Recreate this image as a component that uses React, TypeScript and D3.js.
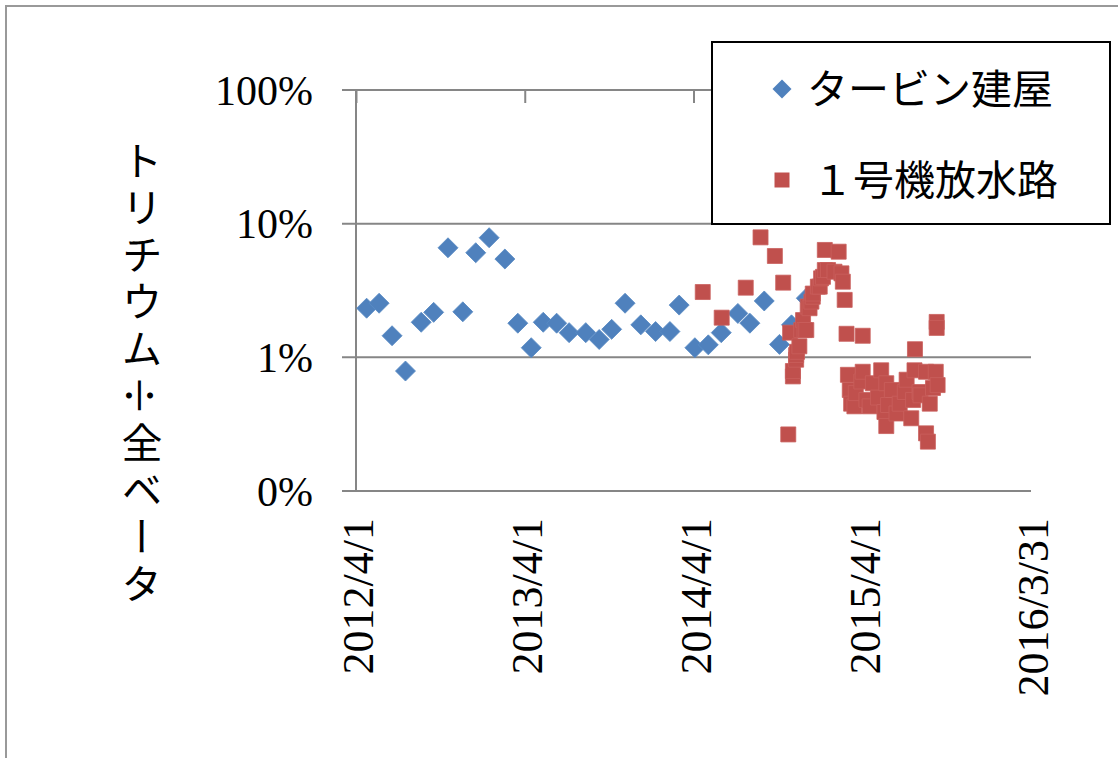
import React, { useRef, useEffect } from "react";
import * as d3 from "d3";

// series: タービン建屋 (blue diamonds)
const turbineDates = [
  "2012-04-24", "2012-05-21", "2012-06-18", "2012-07-17", "2012-08-20", "2012-09-16",
  "2012-10-17", "2012-11-18", "2012-12-16", "2013-01-14", "2013-02-17", "2013-03-17",
  "2013-04-15", "2013-05-11", "2013-06-09", "2013-07-06", "2013-08-11", "2013-09-09",
  "2013-10-06", "2013-11-04", "2013-12-08", "2014-01-09", "2014-02-09", "2014-03-01",
  "2014-04-04", "2014-05-03", "2014-05-31", "2014-07-06", "2014-08-01", "2014-09-01",
  "2014-10-04", "2014-10-30", "2014-12-01",
];
const turbineValues = [
  2.33, 2.54, 1.45, 0.79, 1.83, 2.17,
  6.6, 2.19, 6.06, 7.85, 5.44, 1.8,
  1.18, 1.83, 1.8, 1.53, 1.53, 1.36,
  1.62, 2.54, 1.75, 1.56, 1.56, 2.46,
  1.18, 1.24, 1.53, 2.13, 1.8, 2.64,
  1.25, 1.75, 2.77,
];

// series: １号機放水路 (red squares)
const outfallDates = [
  "2014-04-21", "2014-06-01", "2014-07-23", "2014-08-24", "2014-09-24", "2014-10-12",
  "2014-10-23", "2014-10-27", "2014-11-02", "2014-11-02", "2014-11-09", "2014-11-09",
  "2014-11-11", "2014-11-16", "2014-11-20", "2014-11-24", "2014-11-27", "2014-12-01",
  "2014-12-04", "2014-12-08", "2014-12-12", "2014-12-15", "2014-12-15", "2014-12-26",
  "2014-12-30", "2015-01-02", "2015-01-06", "2015-01-10", "2015-01-10", "2015-01-17",
  "2015-01-31", "2015-02-09", "2015-02-15", "2015-02-18", "2015-02-22", "2015-02-26",
  "2015-04-02",
  "2015-03-01", "2015-03-05", "2015-03-08", "2015-03-15", "2015-03-18", "2015-03-30",
  "2015-04-02", "2015-04-10", "2015-04-17", "2015-04-24", "2015-05-05", "2015-05-12",
  "2015-05-19", "2015-05-23", "2015-05-23", "2015-05-27", "2015-06-04", "2015-06-14",
  "2015-06-21", "2015-07-02", "2015-07-06", "2015-07-16", "2015-07-20", "2015-07-23",
  "2015-07-24", "2015-08-03", "2015-08-05", "2015-08-17", "2015-08-17", "2015-08-21",
  "2015-08-25", "2015-09-01", "2015-09-07", "2015-09-09", "2015-09-09", "2015-09-11",
];
const outfallValues = [
  3.08, 1.98, 3.32, 7.9, 5.73, 3.62,
  0.265, 1.53, 0.72, 0.79, 0.96, 1.04,
  1.1, 1.21, 1.6, 1.9, 1.6, 1.6,
  2.4, 2.33, 2.61, 2.84, 3.0, 3.38,
  3.38, 3.9, 4.0, 4.5, 6.36, 4.5,
  4.37, 6.17, 4.25, 3.68, 2.69, 1.5,
  1.45,
  0.74, 0.57, 0.45, 0.43, 0.54, 0.66,
  0.78, 0.48, 0.43, 0.64, 0.5, 0.8,
  0.39, 0.64, 0.306, 0.44, 0.57, 0.38,
  0.45, 0.55, 0.68, 0.35, 0.48, 0.8,
  1.15, 0.55, 0.52, 0.78, 0.27, 0.234,
  0.45, 0.59, 0.78, 1.84, 1.66, 0.62,
];

const xTickLabels = ["2012/4/1", "2013/4/1", "2014/4/1", "2015/4/1", "2016/3/31"];
const yTickValues = [0.1, 1, 10, 100];
const yTickLabels = ["0%", "1%", "10%", "100%"];
const seriesNames = ["タービン建屋", "１号機放水路"];
const yTitle = ["トリチウム", "÷", "全ベータ"];

const BLUE = "#4F81BD";
const RED = "#C0504D";
const GRID = "#868686";
const SERIF = "'Liberation Serif', 'DejaVu Serif', serif";
const JP = "'Noto Sans CJK JP', sans-serif";

const App = () => {
  const svgRef = useRef(null);

  useEffect(() => {
    const svg = d3.select(svgRef.current);
    svg.selectAll("*").remove();

    const width = 1118;
    const height = 758;
    const margin = { top: 90, right: 87, bottom: 267, left: 356 };
    const parse = d3.utcParse("%Y-%m-%d");
    const parseTick = d3.utcParse("%Y/%m/%d");

    const xScale = d3
      .scaleUtc()
      .domain([parseTick(xTickLabels[0]), parseTick(xTickLabels[xTickLabels.length - 1])])
      .range([margin.left, width - margin.right]);

    const yScale = d3
      .scaleLog()
      .domain([0.1, 100])
      .range([height - margin.bottom, margin.top]);

    svg.append("rect").attr("width", width).attr("height", height).attr("fill", "#fff");

    // outer chart frame (runs off the right / bottom edge)
    svg
      .append("rect")
      .attr("x", 6)
      .attr("y", 6)
      .attr("width", width + 20)
      .attr("height", height + 20)
      .attr("fill", "none")
      .attr("stroke", "#999")
      .attr("stroke-width", 2);

    // horizontal grid lines + outer tick marks
    const gridGroup = svg.append("g");
    yTickValues.forEach((tick) => {
      gridGroup
        .append("line")
        .attr("x1", margin.left - 14)
        .attr("x2", width - margin.right)
        .attr("y1", yScale(tick))
        .attr("y2", yScale(tick))
        .attr("stroke", GRID)
        .attr("stroke-width", 2);
    });

    // y axis line
    svg
      .append("line")
      .attr("x1", margin.left)
      .attr("x2", margin.left)
      .attr("y1", yScale(100))
      .attr("y2", yScale(0.1))
      .attr("stroke", GRID)
      .attr("stroke-width", 2);

    // y tick labels
    svg
      .append("g")
      .selectAll("text")
      .data(yTickValues)
      .enter()
      .append("text")
      .attr("x", 313)
      .attr("y", (d) => yScale(d))
      .attr("dy", "0.35em")
      .attr("text-anchor", "end")
      .style("font-family", SERIF)
      .style("font-size", "42px")
      .attr("fill", "#000")
      .text((d, i) => yTickLabels[i]);

    // horizontal axis crosses at the top: ticks point down from 100%
    const xTicks = xTickLabels.map((t) => parseTick(t));
    const xAxis = svg
      .append("g")
      .attr("transform", `translate(0,${yScale(100)})`)
      .call(d3.axisBottom(xScale).tickValues(xTicks).tickSize(13).tickFormat(() => ""));
    xAxis.select(".domain").remove();
    xAxis.selectAll(".tick line").attr("stroke", GRID).attr("stroke-width", 2);

    // x labels at the bottom, rotated
    svg
      .append("g")
      .selectAll("text")
      .data(xTicks)
      .enter()
      .append("text")
      .attr("transform", (d) => `translate(${xScale(d) + 2},518) rotate(-90)`)
      .attr("dy", "0.35em")
      .attr("text-anchor", "end")
      .style("font-family", SERIF)
      .style("font-size", "44px")
      .attr("fill", "#000")
      .text((d, i) => xTickLabels[i]);

    // y axis title, written vertically (÷ laid sideways as in the original)
    const title = svg
      .append("text")
      .attr("x", 142)
      .attr("y", 140)
      .style("writing-mode", "vertical-rl")
      .style("font-family", JP)
      .style("font-size", "41px")
      .style("letter-spacing", "6px")
      .attr("fill", "#000");
    yTitle.forEach((part, i) => {
      const span = title.append("tspan").text(part);
      if (i === 1) span.style("text-orientation", "sideways");
    });

    const diamond = d3.symbol(d3.symbolSquare, 200)();
    const square = d3.symbol(d3.symbolSquare, 225)();

    // turbine building series
    svg
      .append("g")
      .selectAll("path")
      .data(turbineDates)
      .enter()
      .append("path")
      .attr("d", diamond)
      .attr("transform", (d, i) => `translate(${xScale(parse(d))},${yScale(turbineValues[i])}) rotate(45)`)
      .attr("fill", BLUE)
      .attr("stroke", "#5a8bc4")
      .attr("stroke-width", 0.8);

    // unit 1 outfall series
    svg
      .append("g")
      .selectAll("path")
      .data(outfallDates)
      .enter()
      .append("path")
      .attr("d", square)
      .attr("transform", (d, i) => `translate(${xScale(parse(d))},${yScale(outfallValues[i])})`)
      .attr("fill", RED)
      .attr("stroke", "#c9605d")
      .attr("stroke-width", 0.8);

    // legend
    const legend = svg.append("g");
    legend
      .append("rect")
      .attr("x", 712)
      .attr("y", 42)
      .attr("width", 398)
      .attr("height", 182)
      .attr("fill", "#fff")
      .attr("stroke", "#000")
      .attr("stroke-width", 2);
    const rowY = [89, 180];
    legend
      .append("path")
      .attr("d", d3.symbol(d3.symbolSquare, 180)())
      .attr("transform", `translate(782,${rowY[0]}) rotate(45)`)
      .attr("fill", BLUE);
    legend
      .append("path")
      .attr("d", square)
      .attr("transform", `translate(782,${rowY[1]})`)
      .attr("fill", RED);
    legend
      .selectAll("text")
      .data(seriesNames)
      .enter()
      .append("text")
      .attr("x", (d, i) => (i === 0 ? 807 : 812))
      .attr("y", (d, i) => rowY[i])
      .attr("dy", "0.36em")
      .style("font-family", JP)
      .style("font-size", "41px")
      .attr("fill", "#000")
      .text((d) => d);
  }, []);

  return (
    <svg
      ref={svgRef}
      width={1118}
      height={758}
      style={{ position: "absolute", left: 0, top: 0, display: "block" }}
    ></svg>
  );
};

export default App;
